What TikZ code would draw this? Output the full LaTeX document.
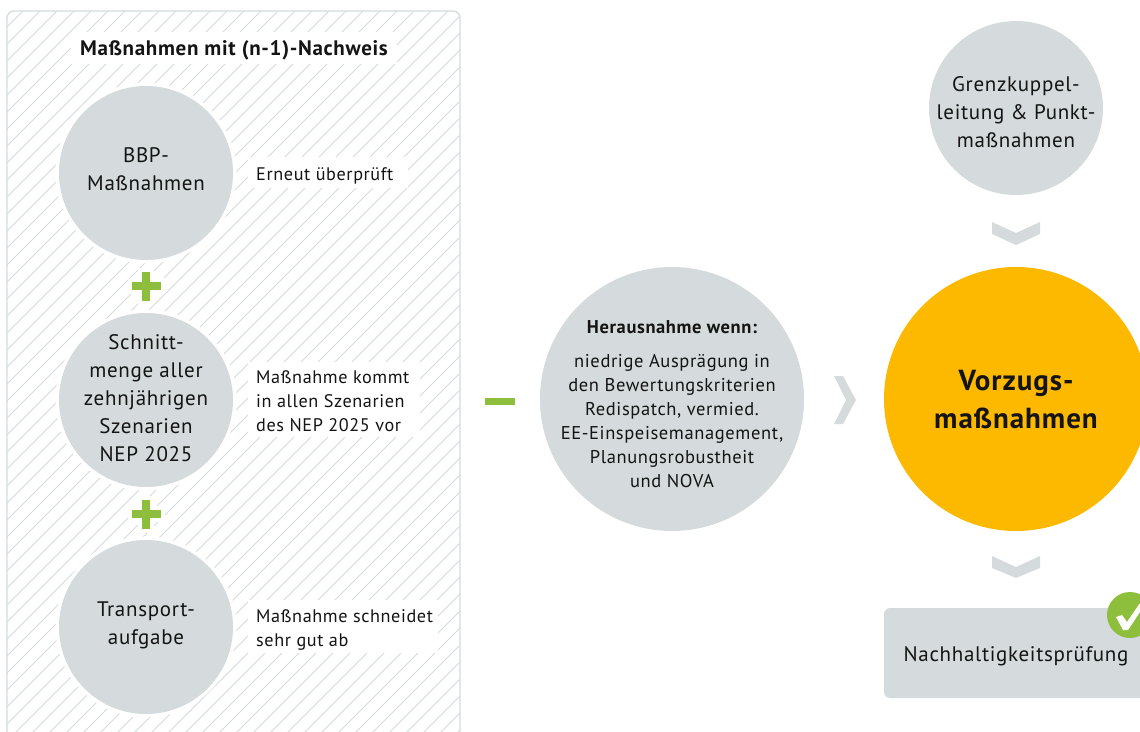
\documentclass[tikz,border=0pt]{standalone}
\usepackage{fontspec}
\setmainfont{PT Sans}[LetterSpace=3.3]
\definecolor{lightgrey}{HTML}{D5DADC}
\definecolor{leaf}{HTML}{8DBE3C}
\definecolor{sun}{HTML}{FCB900}
\definecolor{ink}{HTML}{141414}
\newcommand{\blocktext}[2]{\raisebox{#1}[0pt][0pt]{\begin{tabular}{@{}c@{}}#2\end{tabular}}}
\tikzset{
  x=1pt,y=-1pt,
  disc/.style={circle,fill=lightgrey,draw=none,inner sep=0pt,minimum size=174pt,text=ink,font=\fontsize{21}{28}\selectfont},
  halo/.style={circle,fill=white,draw=none,inner sep=0pt,minimum size=181pt},
  note/.style={anchor=north west,inner sep=0pt,align=left,text=ink,font=\fontsize{18.2}{24}\selectfont},
  chevron/.style={fill=lightgrey,draw=none},
  bar/.style={fill=leaf,draw=none},
}
\begin{document}
\begin{tikzpicture}
\useasboundingbox (0,0) rectangle (1140,731);
\clip (0,0) rectangle (1140,731);
% hatched frame
\begin{scope}
  \clip[rounded corners=7pt] (7,11) rectangle (460,760);
  \foreach \k in {0,17,...,1240}
    \draw[lightgrey,line width=1pt] (\k,0) -- (\k-760,760);
\end{scope}
\draw[lightgrey,line width=1.3pt,rounded corners=7pt] (7,11) rectangle (460,760);
% white label backings
\fill[white] (71,32) rectangle (397,64);
\fill[white] (248,157) rectangle (408,188);
\fill[white] (248,362) rectangle (420,437);
\fill[white] (248,600) rectangle (438,653);
\fill[white] (128,278) rectangle (165,294);
\fill[white] (138,268) rectangle (154,305);
\fill[white] (128,506) rectangle (165,522);
\fill[white] (138,496) rectangle (154,533);
\node[font=\bfseries\fontsize{21}{24}\selectfont,text=ink] (title) at (234,50) {Maßnahmen mit (n-1)-Nachweis};
% left discs
\node[halo] at (146,173) {};
\node[halo] at (146,400) {};
\node[halo] at (146,627) {};
\node[disc] (bbp) at (146,173) {\blocktext{-3pt}{BBP-\\Maßnahmen}};
\node[disc] (schnitt) at (146,400) {\blocktext{-5pt}{Schnitt-\\menge aller\\zehnjährigen\\Szenarien\\NEP 2025}};
\node[disc] (transport) at (146,627) {\blocktext{-3pt}{Transport-\\aufgabe}};
\node[note] (n1) at (256,167) {Erneut überprüft};
\node[note] (n2) at (256,370.5) {Maßnahme kommt\\in allen Szenarien\\des NEP 2025 vor};
\node[note] (n3) at (256,609) {Maßnahme schneidet\\sehr gut ab};
% plus signs
\fill[bar] (132,282) rectangle (161,290);
\fill[bar] (142,272) rectangle (150,301);
\fill[bar] (132,510) rectangle (161,518);
\fill[bar] (142,500) rectangle (150,529);
% minus
\fill[bar] (485,398) rectangle (515,405);
% middle disc
\node[disc,minimum size=264pt,font=\fontsize{18.5}{24}\selectfont] (heraus) at (672,399) {\blocktext{-11pt}{\bfseries Herausnahme wenn:\\[10pt]niedrige Ausprägung in\\den Bewertungskriterien\\Redispatch, vermied.\\EE-Einspeisemanagement,\\Planungsrobustheit\\und NOVA}};
% right chevron
\fill[chevron] (834,376) -- (843,376) -- (856,400) -- (843,424) -- (834,424) -- (846,400) -- cycle;
% right column
\node[disc] (grenz) at (1016,108) {\blocktext{-11pt}{Grenzkuppel-\\leitung \& Punkt-\\maßnahmen}};
\fill[chevron] (992,222) -- (1016,233) -- (1040,222) -- (1040,234) -- (1016,245) -- (992,234) -- cycle;
\node[circle,fill=sun,draw=none,inner sep=0pt,minimum size=264pt,text=ink,font=\bfseries\fontsize{29}{37.5}\selectfont] (vorzug) at (1016,399) {\blocktext{-9pt}{Vorzugs-\\maßnahmen}};
\fill[chevron] (992,556) -- (1016,567) -- (1040,556) -- (1040,568) -- (1016,578) -- (992,568) -- cycle;
\fill[lightgrey,rounded corners=6pt] (884,608) rectangle (1160,698);
\node[text=ink,font=\fontsize{21}{24}\selectfont] (nach) at (1016,656) {Nachhaltigkeitsprüfung};
\fill[leaf] (1130,615) circle (23);
\fill[white] (1116,617) -- (1122,615) -- (1127,622) -- (1140,603) -- (1140,612) -- (1128,630) -- (1123,630) -- cycle;
\end{tikzpicture}
\end{document}
